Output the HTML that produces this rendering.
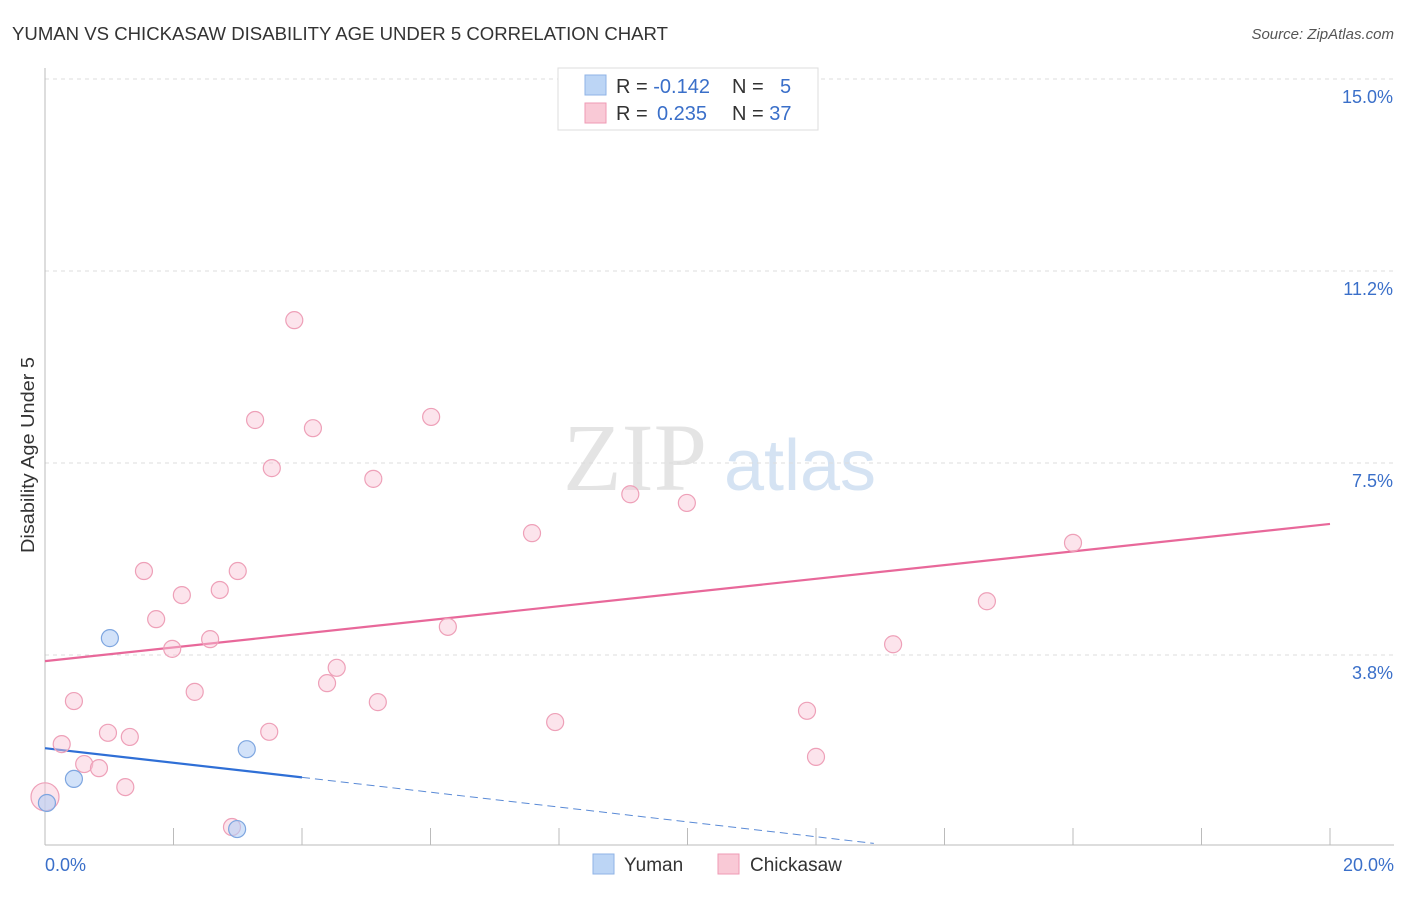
<!DOCTYPE html>
<html><head><meta charset="utf-8"><style>
body{margin:0;background:#fff;font-family:"Liberation Sans",sans-serif}
</style></head><body>
<svg width="1406" height="892" xmlns="http://www.w3.org/2000/svg" font-family="Liberation Sans, sans-serif">
<text x="12" y="40" font-size="18" fill="#333" textLength="656" lengthAdjust="spacingAndGlyphs">YUMAN VS CHICKASAW DISABILITY AGE UNDER 5 CORRELATION CHART</text>
<text x="1394" y="39" font-size="15" fill="#555" text-anchor="end" font-style="italic">Source: ZipAtlas.com</text>
<g>
<text x="635" y="490" font-size="96" fill="#e4e4e4" text-anchor="middle" font-family="Liberation Serif, serif">ZIP</text>
<text x="800" y="490" font-size="72" fill="#d5e3f3" text-anchor="middle">atlas</text>
</g>
<g id="grid"></g><g id="axes"></g><g id="trend"></g><g id="pts"></g>
<text transform="translate(34,455) rotate(-90)" font-size="18" fill="#333" text-anchor="middle" textLength="196" lengthAdjust="spacingAndGlyphs">Disability Age Under 5</text>
<g>
<rect x="558" y="68" width="260" height="62" fill="#fff" stroke="#ddd"/>
<rect x="585" y="75" width="21" height="20" fill="#bcd5f5" stroke="#8fb3e6"/>
<rect x="585" y="103" width="21" height="20" fill="#f9c9d6" stroke="#ef9ab4"/>
<text x="616" y="93" font-size="20" fill="#333">R = <tspan fill="#3a6fc9">-0.142</tspan></text>
<text x="732" y="93" font-size="20" fill="#333">N = <tspan fill="#3a6fc9" x="780">5</tspan></text>
<text x="616" y="120" font-size="20" fill="#333">R = <tspan fill="#3a6fc9" x="657">0.235</tspan></text>
<text x="732" y="120" font-size="20" fill="#333">N = <tspan fill="#3a6fc9">37</tspan></text>
</g>
<g>
<rect x="593" y="854" width="21" height="20" fill="#bcd5f5" stroke="#8fb3e6"/>
<text x="624" y="871" font-size="19" fill="#333">Yuman</text>
<rect x="718" y="854" width="21" height="20" fill="#f9c9d6" stroke="#ef9ab4"/>
<text x="750" y="871" font-size="19" fill="#333">Chickasaw</text>
</g>
</svg>
<script>
const yTicks=[3.75,7.5,11.25,15];
const yTickLabels=["3.8%","7.5%","11.2%","15.0%"];
const xTickLabels=["0.0%","20.0%"];
const yumanX=[0.03,0.45,1.01,2.99,3.14];
const yumanY=[0.86,1.33,4.08,0.35,1.91];
const chickX=[0,0.26,0.45,0.61,0.84,0.98,1.25,1.32,1.54,1.73,1.98,2.13,2.33,2.57,2.72,2.91,3.00,3.27,3.49,3.53,3.88,4.17,4.39,4.54,5.11,5.18,6.01,6.27,7.58,7.94,9.11,9.99,11.86,12.00,13.20,14.66,16.0];
const chickY=[0.98,2.01,2.85,1.62,1.54,2.23,1.17,2.15,5.39,4.45,3.87,4.92,3.03,4.06,5.02,0.39,5.39,8.34,2.25,7.40,10.29,8.18,3.20,3.50,7.19,2.83,8.40,4.30,6.13,2.44,6.89,6.72,2.66,1.76,3.96,4.80,5.94];
const chickTrend=[0,3.63,20,6.31];
const yumanTrend=[0,1.93,4,1.36,12.9,0.07];
const NS="http://www.w3.org/2000/svg";
const X=v=>45+v*64.25, Y=v=>847-v*51.2;
function mk(t,a,p){const e=document.createElementNS(NS,t);for(const k in a)e.setAttribute(k,a[k]);p.appendChild(e);return e;}
const grid=document.getElementById('grid'),axes=document.getElementById('axes'),trend=document.getElementById('trend'),pts=document.getElementById('pts');
yTicks.forEach((t,i)=>{
 const l=mk('line',{x1:45,x2:1394,y1:Y(t),y2:Y(t),stroke:'#ddd','stroke-dasharray':'4,4'},grid);
 
 
 const tx=mk('text',{x:1393,y:Y(t)+24,'font-size':18,fill:'#3a6fc9','text-anchor':'end'},axes);
 tx.textContent=yTickLabels[i];
 
 
});
const ax=mk('line',{x1:45,x2:45,y1:68,y2:845,stroke:'#bbb'},axes);


const bx=mk('line',{x1:45,x2:1394,y1:845,y2:845,stroke:'#bbb'},axes);


for(let i=0;i<=10;i++){const t=mk('line',{x1:X(i*2),x2:X(i*2),y1:828,y2:845,stroke:'#bbb'},axes);
 
 }
[[0,xTickLabels[0],'start',45],[20,xTickLabels[1],'end',1394]].forEach(d=>{
 const t=mk('text',{x:d[3],y:871,'font-size':18,fill:'#3a6fc9','text-anchor':d[2]},axes);t.textContent=d[1];
 
 });
const pl=mk('line',{x1:X(chickTrend[0]),y1:Y(chickTrend[1]),x2:X(chickTrend[2]),y2:Y(chickTrend[3]),stroke:'#e8689a','stroke-width':2.2},trend);


const bl=mk('line',{x1:X(yumanTrend[0]),y1:Y(yumanTrend[1]),x2:X(yumanTrend[2]),y2:Y(yumanTrend[3]),stroke:'#2f6fd6','stroke-width':2.2},trend);


const bd=mk('line',{x1:X(yumanTrend[2]),y1:Y(yumanTrend[3]),x2:X(yumanTrend[4]),y2:Y(yumanTrend[5]),stroke:'#5a8ad6','stroke-width':1,'stroke-dasharray':'8,5'},trend);


chickX.forEach((x,i)=>{const c=mk('circle',{cx:X(x),cy:Y(chickY[i]),r:i==0?14:8.5,fill:'rgba(248,195,212,0.45)',stroke:'#eea0b8','stroke-width':1.2},pts);
 
 });
yumanX.forEach((x,i)=>{const c=mk('circle',{cx:X(x),cy:Y(yumanY[i]),r:8.5,fill:'rgba(180,206,245,0.6)',stroke:'#7ea6e0','stroke-width':1.2},pts);
 
 });
</script>
</body></html>
